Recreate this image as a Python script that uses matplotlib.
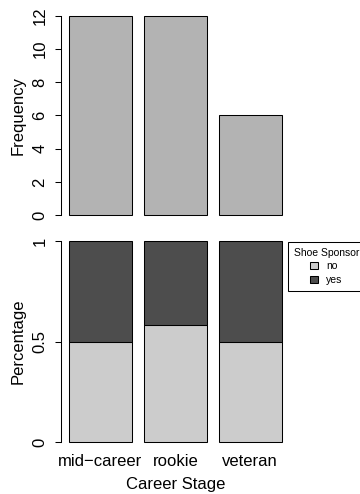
import matplotlib
matplotlib.use("Agg")
import matplotlib.pyplot as plt
from matplotlib.patches import Patch
import numpy as np

plt.rcParams['font.family'] = ['Liberation Sans', 'DejaVu Sans']

# data
stages = ['mid\u2212career', 'rookie', 'veteran']
freq = [12, 12, 6]
share_no = [0.5, 0.583, 0.5]
share_yes = [0.5, 0.417, 0.5]
sponsor_levels = ['no', 'yes']

bar_col = '#b3b3b3'
col_no = '#cccccc'
col_yes = '#4d4d4d'

# R barplot geometry: width 1, space 0.2
x = 0.2 + np.arange(len(stages)) * 1.2 + 0.5
xlim = (0.064, 3.736)

fig = plt.figure(figsize=(3.6, 4.94), dpi=100)
ax1 = fig.add_axes([60.5 / 360, (494 - 223) / 494, 229.5 / 360, 215 / 494])
ax2 = fig.add_axes([60.5 / 360, (494 - 450) / 494, 229.5 / 360, 217 / 494])


def r_style(ax, lo, hi, ticks, labels):
    for s in ['top', 'right', 'bottom']:
        ax.spines[s].set_visible(False)
    ax.spines['left'].set_bounds(lo, hi)
    ax.spines['left'].set_linewidth(0.75)
    ax.set_yticks(ticks)
    ax.set_yticklabels(labels, rotation=90, va='center', fontsize=12)
    ax.tick_params(axis='y', direction='out', length=4.3, width=0.75, pad=5)
    ax.set_xlim(*xlim)


ax1.bar(x, freq, width=1, color=bar_col, edgecolor='black', linewidth=0.75)
ax1.set_ylim(-0.48, 12.48)
r_style(ax1, 0, 12, [0, 2, 4, 6, 8, 10, 12], ['0', '2', '4', '6', '8', '10', '12'])
ax1.set_xticks([])
ax1.set_ylabel('Frequency', fontsize=12, va='center')
ax1.yaxis.set_label_coords(-0.185, 0.5)

ax2.bar(x, share_no, width=1, color=col_no, edgecolor='black', linewidth=0.75)
ax2.bar(x, share_yes, width=1, bottom=share_no, color=col_yes, edgecolor='black', linewidth=0.75)
ax2.set_ylim(-0.04, 1.04)
r_style(ax2, 0, 1, [0, 0.5, 1], ['0', '0.5', '1'])
ax2.set_xticks(x)
ax2.set_xticklabels(stages, fontsize=12)
ax2.tick_params(axis='x', length=0, pad=3)
ax2.set_ylabel('Percentage', fontsize=12, va='center')
ax2.yaxis.set_label_coords(-0.185, 0.5)
ax2.set_xlabel('Career Stage', fontsize=12, va='center')
ax2.xaxis.set_label_coords(0.5, -0.161)

handles = [Patch(facecolor=c, edgecolor='black', linewidth=0.75) for c in [col_no, col_yes]]
leg = fig.legend(handles, sponsor_levels, title='Shoe Sponsor', loc='upper left',
                 bbox_to_anchor=(288 / 360, (494 - 242) / 494), fontsize=7.5,
                 title_fontsize=7.5, frameon=True, fancybox=False, framealpha=1,
                 edgecolor='black', handlelength=0.7, handleheight=0.7,
                 handletextpad=0.8, labelspacing=0.35, borderpad=0.55,
                 borderaxespad=0, alignment='center')
leg.get_frame().set_linewidth(0.75)

fig.savefig('out.png', dpi=100)
